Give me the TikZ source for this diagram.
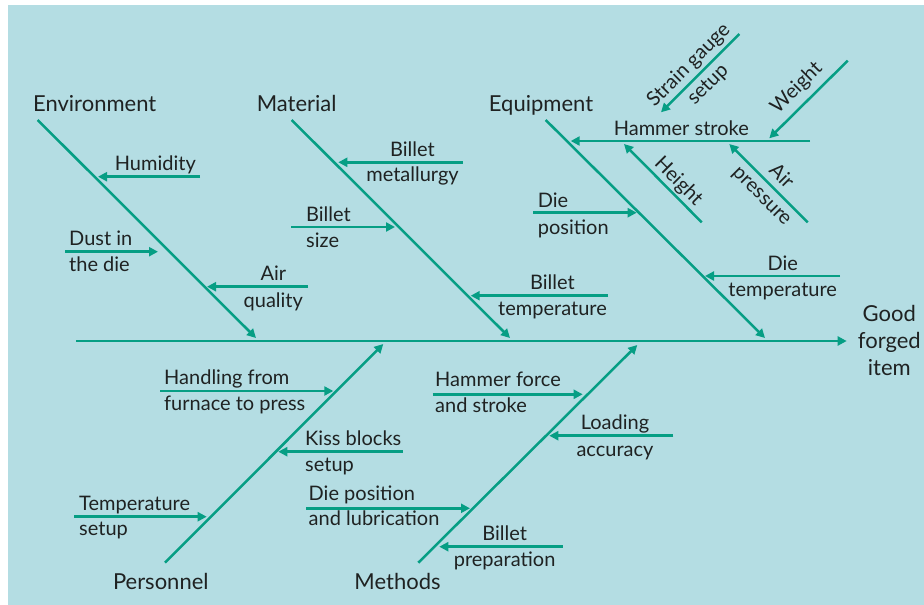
\documentclass[tikz,border=0pt]{standalone}
\usepackage{fontspec}
\setmainfont{Lato}
\usetikzlibrary{arrows.meta}
\definecolor{bg}{HTML}{B4DDE3}
\definecolor{fish}{HTML}{069E84}
\definecolor{ink}{HTML}{1F2222}
\begin{document}
\begin{tikzpicture}[x=1pt,y=-1pt,
  bone/.style={draw=fish,line width=2.5pt,-{Triangle[length=9pt,width=9pt]}},
  lbl/.style={text=ink,font=\fontsize{20}{27}\selectfont,inner sep=0pt,anchor=base},
  lbll/.style={lbl,anchor=base west},
  cat/.style={lbl,font=\fontsize{22}{27}\selectfont},
  rlbl/.style={text=ink,font=\fontsize{20}{27}\selectfont,inner sep=0pt,align=center,anchor=center}]
\useasboundingbox (0,0) rectangle (924,605);
\fill[white] (0,0) rectangle (924,605);
\fill[bg] (8,5) rectangle (924,605);

% ---- coordinates
\coordinate (spS) at (76,341);     \coordinate (spE) at (846.7,341);
\coordinate (envS) at (37.7,120);  \coordinate (envE) at (256,338);
\coordinate (matS) at (291.7,120); \coordinate (matE) at (510,338);
\coordinate (equS) at (545.7,120); \coordinate (equE) at (765,338);
\coordinate (perS) at (165,562.7); \coordinate (perE) at (383.3,344);
\coordinate (metS) at (418.3,562.7); \coordinate (metE) at (637.3,345);

\coordinate (humS) at (200,176.7);  \coordinate (humE) at (98,176.7);
\coordinate (dusS) at (65,251.7);   \coordinate (dusE) at (158,251.7);
\coordinate (airS) at (308,286.7);  \coordinate (airE) at (207,286.7);
\coordinate (bmS) at (462.7,162.3); \coordinate (bmE) at (338.3,162.3);
\coordinate (bsS) at (291,227);     \coordinate (bsE) at (395,227);
\coordinate (btS) at (608,295.7);   \coordinate (btE) at (470.7,295.7);
\coordinate (hsS) at (810,141);     \coordinate (hsE) at (570.7,141);
\coordinate (sgS) at (739.3,34);    \coordinate (sgE) at (661,112.3);
\coordinate (wtS) at (847.7,60.7);  \coordinate (wtE) at (769.3,138.3);
\coordinate (htS) at (701.7,222.3); \coordinate (htE) at (624,144);
\coordinate (apS) at (807.7,222.3); \coordinate (apE) at (729.3,144);
\coordinate (dpS) at (533.3,212.7); \coordinate (dpE) at (636.7,212.7);
\coordinate (dtS) at (840,276);     \coordinate (dtE) at (705,276);
\coordinate (hfS) at (160,391);     \coordinate (hfE) at (333.3,391);
\coordinate (kbS) at (402.7,451.7); \coordinate (kbE) at (278.3,451.7);
\coordinate (tsS) at (74,516.7);    \coordinate (tsE) at (206.7,516.7);
\coordinate (hmS) at (432.7,394.3); \coordinate (hmE) at (582.7,394.3);
\coordinate (laS) at (673.3,435.7); \coordinate (laE) at (549.3,435.7);
\coordinate (dlS) at (306,508.3);   \coordinate (dlE) at (470,508.3);
\coordinate (bpS) at (562.7,546.7); \coordinate (bpE) at (439.3,546.7);

% ---- connectors
\foreach \a in {sp,env,mat,equ,per,met,hum,dus,air,bm,bs,bt,hs,sg,wt,ht,ap,dp,dt,hf,kb,ts,hm,la,dl,bp}
  \draw[bone] (\a S) -- (\a E);

% ---- labels
\node[cat] (tEnv) at (94.7,111) {Environment};
\node[cat] (tMat) at (296.7,111) {Material};
\node[cat] (tEqu) at (541,111) {Equipment};
\node[cat] (tPer) at (160.8,589.3) {Personnel};
\node[cat] (tMet) at (397.5,589.3) {Methods};

\node[lbl] (tHum) at (155.3,170) {Humidity};
\node[lbll] (tDus1) at (69,245.7) {Dust in};
\node[lbll] (tDus2) at (69,271.7) {the die};
\node[lbl] (tAir1) at (273.3,280) {Air};
\node[lbl] (tAir2) at (273.3,307) {quality};

\node[lbl] (tBm1) at (412.5,156) {Billet};
\node[lbl] (tBm2) at (412.5,181.7) {metallurgy};
\node[lbll] (tBs1) at (306,221.7) {Billet};
\node[lbll] (tBs2) at (306,247.3) {size};
\node[lbl] (tBt1) at (552.5,289.3) {Billet};
\node[lbl] (tBt2) at (552.5,315.5) {temperature};

\node[lbl] (tHs) at (681.3,135) {Hammer stroke};
\node[rlbl,rotate=45] (tSg) at (698.5,75) {Strain gauge\\setup};
\node[rlbl,rotate=45] (tWt) at (796.7,88.3) {Weight};
\node[rlbl,rotate=-45] (tHt) at (678.3,181.7) {Height};
\node[rlbl,rotate=-45] (tAp) at (771.5,186.5) {Air\\pressure};
\node[lbll] (tDp1) at (537.7,207.7) {Die};
\node[lbll] (tDp2) at (537.7,234) {position};
\node[lbl] (tDt1) at (782.7,270) {Die};
\node[lbl] (tDt2) at (782.7,296) {temperature};

\node[cat] (tG1) at (889.3,321.7) {Good};
\node[cat] (tG2) at (889.3,348.3) {forged};
\node[cat] (tG3) at (889.3,375) {item};

\node[lbll] (tHf1) at (164,384) {Handling from};
\node[lbll] (tHf2) at (164,410.7) {furnace to press};
\node[lbll] (tKb1) at (305,445) {Kiss blocks};
\node[lbll] (tKb2) at (305,471.7) {setup};
\node[lbll] (tTs1) at (79,510) {Temperature};
\node[lbll] (tTs2) at (79,535) {setup};

\node[lbll] (tHm1) at (435,386) {Hammer force};
\node[lbll] (tHm2) at (435,412.7) {and stroke};
\node[lbl] (tLa1) at (615,429.3) {Loading};
\node[lbl] (tLa2) at (615,456) {accuracy};
\node[lbll] (tDl1) at (308.5,500) {Die position};
\node[lbll] (tDl2) at (308.5,525) {and lubrication};
\node[lbl] (tBp1) at (504.6,540) {Billet};
\node[lbl] (tBp2) at (504.6,566) {preparation};
\end{tikzpicture}
\end{document}
